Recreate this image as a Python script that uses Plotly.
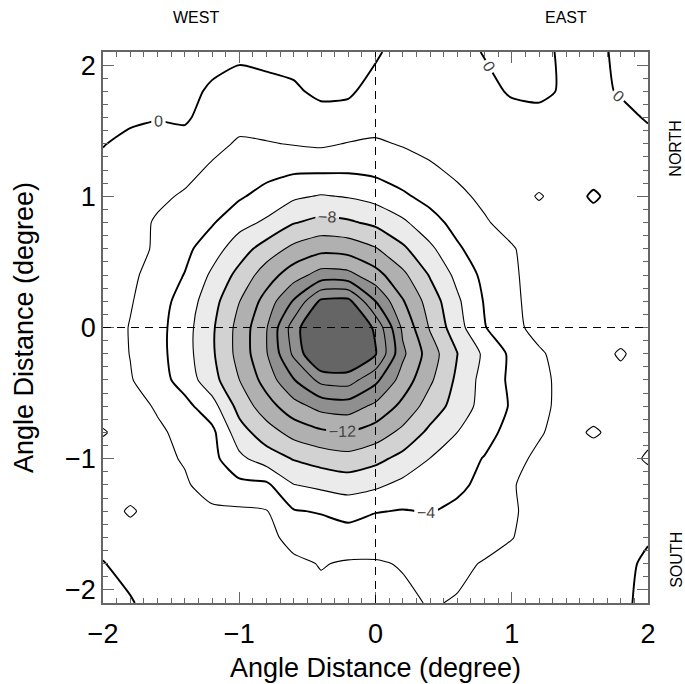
import plotly.graph_objects as go

# Grid nodes of the sky map (degrees from the source position)
x_deg = [-2.0, -1.8, -1.6, -1.4, -1.2, -1.0, -0.8, -0.6, -0.4, -0.2, 0.0,
         0.2, 0.4, 0.6, 0.8, 1.0, 1.2, 1.4, 1.6, 1.8, 2.0]
y_deg = [-2.1, -1.8, -1.6, -1.4, -1.2, -1.0, -0.8, -0.6, -0.4, -0.2, 0.0,
         0.2, 0.4, 0.6, 0.8, 1.0, 1.2, 1.4, 1.6, 1.8, 2.1]

# Significance map, one row per y node (bottom row first)
significance = [
    [0.4, 0.2, -1.0, -1.1, -0.9, -1.0, -1.1, -1.3, -1.5, -1.4, -1.5, -1.7, -2.1, -1.9, -1.2, -1.0, -0.9, -1.0, -0.8, -0.3, 0.4],
    [0.1, -0.8, -1.0, -0.9, -1.0, -1.1, -1.2, -1.6, -2.1, -1.8, -1.85, -2.1, -2.4, -2.3, -1.9, -1.5, -1.1, -0.9, -1.0, -0.6, 0.4],
    [-0.7, -1.0, -0.9, -1.1, -1.2, -1.2, -1.4, -2.68, -2.88, -3.18, -2.8, -3.0, -3.0, -2.8, -2.5, -2.05, -1.4, -1.0, -0.8, -0.9, -0.2],
    [-0.9, -2.3, -1.0, -1.1, -1.6, -1.7, -1.9, -3.86, -4.16, -4.65, -4.1, -3.9, -4.1, -3.6, -2.8, -2.2, -1.4, -1.0, -0.9, -1.1, -0.8],
    [-1.0, -0.9, -1.2, -1.7, -3.03, -3.5, -3.6, -5.94, -6.43, -6.84, -6.37, -5.47, -5.0, -4.4, -3.5, -2.1, -1.5, -1.0, -0.8, -0.9, -1.0],
    [-0.9, -1.1, -1.4, -2.2, -3.4, -5.53, -7.0, -8.12, -8.84, -9.26, -8.56, -7.39, -5.96, -4.8, -3.9, -2.6, -1.6, -1.1, -0.9, -1.0, -2.3],
    [-2.2, -1.0, -1.7, -2.5, -3.5, -7.17, -9.08, -10.71, -11.62, -11.94, -11.06, -9.48, -7.54, -6.0, -4.7, -3.3, -2.2, -1.2, -2.3, -1.2, -1.4],
    [-0.9, -1.3, -2.2, -3.4, -5.2, -8.7, -11.14, -13.25, -14.68, -14.99, -13.54, -11.47, -9.09, -7.2, -5.2, -3.8, -2.4, -1.5, -1.0, -0.8, -1.1],
    [-0.8, -1.86, -3.14, -4.83, -7.24, -9.98, -12.84, -15.89, -18.6, -18.9, -16.5, -13.13, -10.34, -7.6, -5.26, -3.6, -2.5, -1.4, -1.0, -1.2, -0.9],
    [-0.9, -2.05, -3.31, -5.2, -7.69, -10.68, -13.86, -18.4, -22.8, -22.5, -20.2, -14.4, -11.01, -8.04, -5.62, -3.57, -2.28, -1.14, -0.9, -2.3, -0.8],
    [-0.85, -2.1, -3.31, -5.2, -7.69, -10.67, -13.86, -19.0, -23.0, -22.7, -19.6, -13.6, -9.82, -6.79, -4.1, -2.62, -1.3, -0.9, -1.0, -0.8, -1.1],
    [-0.8, -1.85, -3.14, -4.82, -7.22, -9.95, -12.79, -16.2, -20.4, -20.6, -16.0, -12.16, -9.11, -6.34, -3.86, -2.45, -1.17, -1.0, -0.9, -0.7, -0.9],
    [-0.9, -1.6, -2.8, -4.07, -6.34, -8.61, -11.03, -13.11, -14.8, -14.6, -12.75, -10.47, -7.84, -5.48, -3.47, -2.4, -0.93, -1.1, -0.8, -1.0, -0.7],
    [-1.0, -1.23, -2.31, -3.48, -5.12, -7.05, -8.91, -10.51, -11.41, -11.18, -10.16, -8.36, -6.42, -4.28, -2.92, -2.2, -0.9, -1.0, -0.8, -0.9, -1.0],
    [-0.8, -1.0, -2.3, -2.79, -3.81, -5.36, -6.31, -7.89, -8.57, -8.28, -7.57, -6.36, -4.73, -3.37, -2.24, -1.18, -0.9, -1.0, -0.9, -0.8, -0.9],
    [-0.7, -0.9, -1.5, -2.3, -2.92, -3.74, -4.77, -5.67, -6.15, -5.87, -5.32, -4.3, -3.4, -2.49, -1.53, -0.9, -2.2, -1.0, 0.3, -0.9, -0.8],
    [-0.6, -0.8, -1.0, -1.23, -2.4, -2.69, -3.28, -3.7, -3.7, -3.74, -3.49, -3.01, -2.35, -1.59, -0.9, -1.0, -0.8, -1.1, -0.9, -0.7, -0.9],
    [0.1, -0.6, -0.7, -0.5, -1.3, -2.3, -2.12, -1.9, -1.7, -2.1, -2.26, -1.86, -1.36, -0.9, -1.0, -0.8, -0.9, -1.0, -0.8, -0.9, -0.7],
    [0.5, 0.4, 0.1, 0.2, -0.6, -1.2, -1.1, -1.0, -0.5, -0.5, -1.16, -0.9, -1.0, -0.8, -0.9, -0.6, -0.4, -0.9, -1.0, -0.6, 0.2],
    [0.6, 0.6, 0.6, 0.4, -0.2, -0.6, -0.4, -0.2, 0.3, 0.2, -0.5, -0.8, -0.7, -0.9, -0.5, 0.2, 0.3, -0.2, -0.6, 0.2, 0.5],
    [0.6, 0.6, 0.6, 0.6, 0.5, 0.3, 0.4, 0.5, 0.6, 0.5, 0.2, -0.6, -0.8, -0.6, 0.1, 0.4, 0.4, -0.3, -0.5, 0.4, 0.6],
]

# Shaded bands: the region below each threshold gets the next grey
shade_levels = [-6, -8, -10, -14, -20]
shade_colors = ["#ebebeb", "#d2d2d2", "#b0b0b0", "#8f8f8f", "#656565"]

FONT = "Liberation Sans, Arial, sans-serif"
SMOOTH = 0.6

fig = go.Figure()

# A constraint contour shades the side that violates the constraint,
# so '>' level shades everything below the level.
for level, colour in zip(shade_levels, shade_colors):
    fig.add_trace(go.Contour(
        x=x_deg, y=y_deg, z=significance,
        contours=dict(type="constraint", operation=">", value=level),
        fillcolor=colour,
        line=dict(width=0, smoothing=SMOOTH),
        showscale=False, hoverinfo="skip",
    ))

# Thin contour lines (-18, -14, -10, -6, -2)
fig.add_trace(go.Contour(
    x=x_deg, y=y_deg, z=significance,
    autocontour=False,
    contours=dict(start=-18, end=-2, size=4, coloring="none"),
    line=dict(color="black", width=1.1, smoothing=SMOOTH),
    showscale=False, hoverinfo="skip",
))

# Heavy contour lines without labels (-20, -16)
fig.add_trace(go.Contour(
    x=x_deg, y=y_deg, z=significance,
    autocontour=False,
    contours=dict(start=-20, end=-16, size=4, coloring="none"),
    line=dict(color="black", width=1.9, smoothing=SMOOTH),
    showscale=False, hoverinfo="skip",
))

# Heavy labelled contour lines (-12, -8, -4, 0)
fig.add_trace(go.Contour(
    x=x_deg, y=y_deg, z=significance,
    autocontour=False,
    contours=dict(start=-12, end=0, size=4, coloring="none",
                  showlabels=True,
                  labelfont=dict(family=FONT, size=16, color="#444444")),
    line=dict(color="black", width=1.9, smoothing=SMOOTH),
    showscale=False, hoverinfo="skip",
))

axis_common = dict(
    automargin=False,
    showgrid=False, zeroline=False,
    showline=True, linecolor="#666666", linewidth=1.5, mirror="allticks",
    ticks="inside", ticklen=11, tickwidth=1, tickcolor="#666666",
    tickvals=[-2, -1, 0, 1, 2],
    tickfont=dict(family=FONT, size=27, color="black"),
    minor=dict(ticks="inside", ticklen=5, tickwidth=1, tickcolor="#666666",
               dtick=0.1, tick0=0, showgrid=False),
)

label_font = dict(family=FONT, size=16, color="black")

fig.update_layout(
    width=685, height=684,
    margin=dict(l=103, r=37, t=52, b=81),
    paper_bgcolor="white", plot_bgcolor="white",
    showlegend=False,
    xaxis=dict(range=[-2, 2],
               ticklabelstandoff=6,
               title=dict(text="Angle Distance (degree)",
                          font=dict(family=FONT, size=27, color="black"),
                          standoff=10),
               **axis_common),
    yaxis=dict(range=[-2.1, 2.1],
               title=dict(text="Angle Distance (degree)",
                          font=dict(family=FONT, size=27, color="black"),
                          standoff=24),
               **axis_common),
    shapes=[
        dict(type="line", xref="x", yref="paper", x0=0, x1=0, y0=0, y1=1,
             line=dict(color="black", width=1, dash="8px,6px"), layer="above"),
        dict(type="line", xref="paper", yref="y", x0=0, x1=1, y0=0, y1=0,
             line=dict(color="black", width=1, dash="8px,6px"), layer="above"),
    ],
    annotations=[
        dict(text="WEST", xref="paper", yref="paper", x=0.171, y=1.062,
             xanchor="center", yanchor="middle", showarrow=False, font=label_font),
        dict(text="EAST", xref="paper", yref="paper", x=0.85, y=1.062,
             xanchor="center", yanchor="middle", showarrow=False, font=label_font),
        dict(text="NORTH", xref="paper", yref="paper", x=1.051, y=0.826,
             xanchor="center", yanchor="middle", textangle=-90,
             showarrow=False, font=label_font),
        dict(text="SOUTH", xref="paper", yref="paper", x=1.051, y=0.078,
             xanchor="center", yanchor="middle", textangle=-90,
             showarrow=False, font=label_font),
    ],
)

fig.write_html("out.html")
